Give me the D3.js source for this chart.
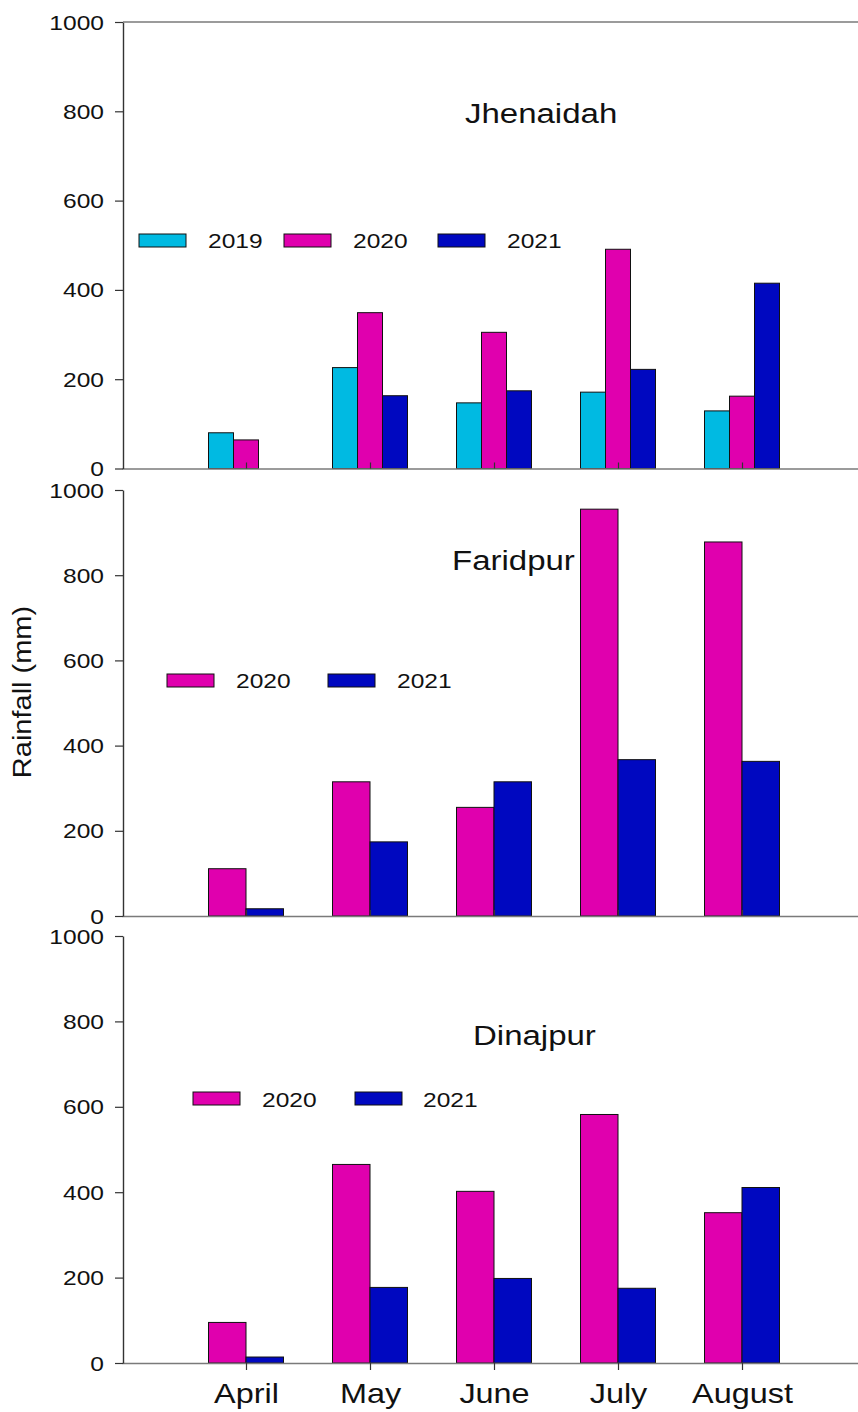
<!DOCTYPE html>
<html>
<head>
<meta charset="utf-8">
<script src="https://cdn.jsdelivr.net/npm/d3@7"></script>
<style>
  body { margin: 0; background: #fff; }
  svg { display: block; }
</style>
</head>
<body>
<svg id="chart"></svg>
<script>
// months on the x axis
const months = ["April", "May", "June", "July", "August"];
const yTicks = [0, 200, 400, 600, 800, 1000];

// rainfall (mm)
const jhenaidah2019 = [80, 226, 147, 171, 129];
const jhenaidah2020 = [64, 349, 305, 491, 162];
const jhenaidah2021 = [null, 163, 174, 222, 415];
const faridpur2020 = [111, 315, 255, 955, 878];
const faridpur2021 = [17, 174, 315, 367, 363];
const dinajpur2020 = [95, 465, 402, 582, 352];
const dinajpur2021 = [14, 177, 198, 175, 411];

const colors = { "2019": "#00BAE2", "2020": "#E000AE", "2021": "#0008C0" };

const W = 858, H = 1412;
const axisX = 123;
const font = "'Liberation Sans', Arial, sans-serif";

const svg = d3.select("#chart").attr("width", W).attr("height", H);

// the figure's text is a little wider than plain Arial, so stretch it sideways
function label(parent, txt, x, y, size, sx, anchor) {
  return parent.append("text")
    .attr("transform", `translate(${x},${y}) scale(${sx},1)`)
    .attr("font-family", font)
    .attr("font-size", size)
    .attr("text-anchor", anchor || "start")
    .attr("fill", "#111")
    .text(txt);
}

const x = d3.scalePoint().domain(months).range([122, 866]).padding(1);

const panels = [
  { name: "Jhenaidah", top: 22, bottom: 468.5, titleX: 465, titleY: 123,
    series: [["2019", jhenaidah2019], ["2020", jhenaidah2020], ["2021", jhenaidah2021]],
    legend: { swatchX: [139, 284, 438], textX: [209, 354, 508], y: 234, base: 248 },
    tickDir: -6 },
  { name: "Faridpur", top: 490, bottom: 916, titleX: 452, titleY: 570,
    series: [["2020", faridpur2020], ["2021", faridpur2021]],
    legend: { swatchX: [167, 328], textX: [237, 398], y: 674, base: 688 },
    tickDir: -6 },
  { name: "Dinajpur", top: 936, bottom: 1363, titleX: 473, titleY: 1045,
    series: [["2020", dinajpur2020], ["2021", dinajpur2021]],
    legend: { swatchX: [193, 355], textX: [263, 424], y: 1092, base: 1107 },
    tickDir: 7 }
];

panels.forEach((p, pi) => {
  const g = svg.append("g");
  const y = d3.scaleLinear().domain([0, 1000]).range([p.bottom, p.top]);
  const inner = d3.scaleBand()
    .domain(p.series.map(s => s[0]))
    .range([-37.5, 37.5]);

  // bars
  p.series.forEach(([year, vals]) => {
    g.append("g").selectAll("rect")
      .data(months.map((m, i) => ({ m, v: vals[i] })).filter(d => d.v != null))
      .join("rect")
      .attr("x", d => x(d.m) + inner(year))
      .attr("y", d => y(d.v))
      .attr("width", inner.bandwidth())
      .attr("height", d => y(0) - y(d.v))
      .attr("fill", colors[year])
      .attr("stroke", "#111")
      .attr("stroke-width", 1);
  });

  // x axis (baseline + small category ticks)
  const xAxis = d3.axisBottom(x).tickSize(p.tickDir).tickSizeOuter(0);
  if (pi < 2) xAxis.tickFormat("");
  const xg = g.append("g")
    .attr("transform", `translate(0,${p.bottom})`)
    .call(xAxis);
  xg.select(".domain").attr("stroke", "#7a7a7a").attr("stroke-width", 1.6);
  xg.selectAll(".tick line").attr("stroke", "#333").attr("stroke-width", 1.2);
  if (pi === 2) {
    xg.selectAll(".tick text")
      .attr("font-family", font)
      .attr("font-size", 27)
      .attr("fill", "#111")
      .attr("y", null).attr("dy", null)
      .attr("transform", "translate(0,40) scale(1.2,1)");
  }

  // y axis
  const yg = g.append("g")
    .attr("transform", `translate(${axisX},0)`)
    .call(d3.axisLeft(y).tickValues(yTicks).tickFormat(d3.format("d")).tickSize(8).tickSizeOuter(0));
  yg.select(".domain").attr("stroke", "#333").attr("stroke-width", 1.4);
  yg.selectAll(".tick line").attr("stroke", "#333").attr("stroke-width", 1.2);
  yg.selectAll(".tick text")
    .attr("font-family", font)
    .attr("font-size", 19.5)
    .attr("fill", "#111")
    .attr("x", -19 / 1.26)
    .attr("dy", "0.36em")
    .attr("transform", "scale(1.26,1)");

  // title
  label(g, p.name, p.titleX, p.titleY, 27.5, 1.2);

  // legend
  p.series.forEach(([year], i) => {
    g.append("rect")
      .attr("x", p.legend.swatchX[i])
      .attr("y", p.legend.y)
      .attr("width", 47)
      .attr("height", 13)
      .attr("fill", colors[year])
      .attr("stroke", "#111")
      .attr("stroke-width", 1);
    label(g, year, p.legend.textX[i] - 1, p.legend.base, 19.5, 1.26);
  });
});

// frame line on top of the first panel
svg.append("line")
  .attr("x1", axisX).attr("x2", W)
  .attr("y1", 22).attr("y2", 22)
  .attr("stroke", "#7a7a7a").attr("stroke-width", 1.6);

// y axis title
svg.append("text")
  .attr("transform", "translate(31,692) rotate(-90) scale(1.16,1)")
  .attr("font-family", font)
  .attr("font-size", 25)
  .attr("text-anchor", "middle")
  .attr("fill", "#111")
  .text("Rainfall (mm)");
</script>
</body>
</html>
